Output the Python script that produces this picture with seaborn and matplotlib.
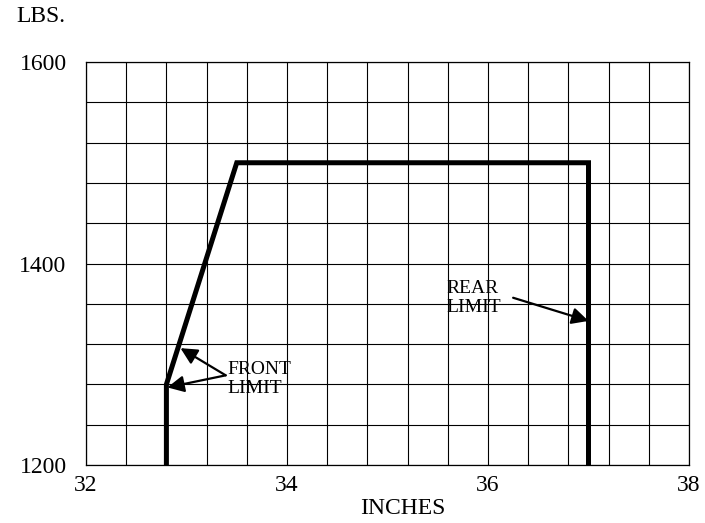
"""Weight vs. CG envelope chart (front / rear limit)."""

import matplotlib
matplotlib.use("Agg")
import matplotlib.pyplot as plt
import numpy as np
import pandas as pd
import seaborn as sns

# ── Data ─────────────────────────────────────────────────────────────

cg_inches = [32.8, 32.8, 33.5, 37.0, 37.0]
weight_lbs = [1200, 1280, 1500, 1500, 1200]

x_labels = {32: "32", 34: "34", 36: "36", 38: "38"}
y_labels = {1200: "1200", 1400: "1400", 1600: "1600"}

# annotation anchors: (text x, text y), arrow tail, arrow tips
front_text = (33.41, 1285)
front_tail = (33.39, 1289)
front_tips = [(32.94, 1316), (32.81, 1277)]
rear_text = (35.59, 1366)
rear_tail = (36.25, 1366)
rear_tip = (37.0, 1343)

# ── Style ────────────────────────────────────────────────────────────

sns.set_theme(style="white")
plt.rcParams["font.family"] = ["Liberation Serif", "DejaVu Serif"]
plt.rcParams["text.color"] = "black"
plt.rcParams["axes.labelcolor"] = "black"
plt.rcParams["xtick.color"] = "black"
plt.rcParams["ytick.color"] = "black"

fig = plt.figure(figsize=(7.05, 5.23), dpi=100)
ax = fig.add_axes([86 / 705, 1 - 465 / 523, 603 / 705, 403 / 523])

df = pd.DataFrame({"cg": cg_inches, "weight": weight_lbs})
sns.lineplot(data=df, x="cg", y="weight", sort=False, estimator=None,
             color="black", linewidth=3.6, ax=ax,
             solid_joinstyle="miter", solid_capstyle="butt", zorder=3)

# grid every 0.4 in / 40 lbs, labels only on the named values
gx = np.round(np.arange(32, 38.01, 0.4), 1)
gy = np.arange(1200, 1600.1, 40)
ax.set_xlim(32, 38)
ax.set_ylim(1200, 1600)
ax.set_xticks(gx)
ax.set_xticklabels([x_labels.get(round(v, 1), "") for v in gx])
ax.set_yticks(gy)
ax.set_yticklabels([y_labels.get(int(v), "") for v in gy])
ax.grid(color="black", linewidth=0.8)
ax.tick_params(length=0, labelsize=17)
ax.tick_params(axis="x", pad=7)
ax.tick_params(axis="y", pad=14)
for s in ax.spines.values():
    s.set_color("black")
    s.set_linewidth(0.9)

ax.set_xlabel("INCHES", fontsize=17)
ax.set_ylabel("")
ax.xaxis.set_label_coords(0.526, -0.083)
fig.text(16 / 705, 1 - 16 / 523, "LBS.", fontsize=17, va="center", ha="left")

arrow = dict(arrowstyle="-|>", color="black", lw=1.6, mutation_scale=25,
             shrinkA=0, shrinkB=0)
ax.text(*front_text, "FRONT\nLIMIT", fontsize=14, ha="left", va="center",
        linespacing=1.15)
for tip in front_tips:
    ax.annotate("", xy=tip, xytext=front_tail, arrowprops=arrow)
ax.text(*rear_text, "REAR\nLIMIT", fontsize=14, ha="left", va="center",
        linespacing=1.15)
ax.annotate("", xy=rear_tip, xytext=rear_tail, arrowprops=arrow)

fig.savefig("out.png", dpi=100)
plt.close(fig)
